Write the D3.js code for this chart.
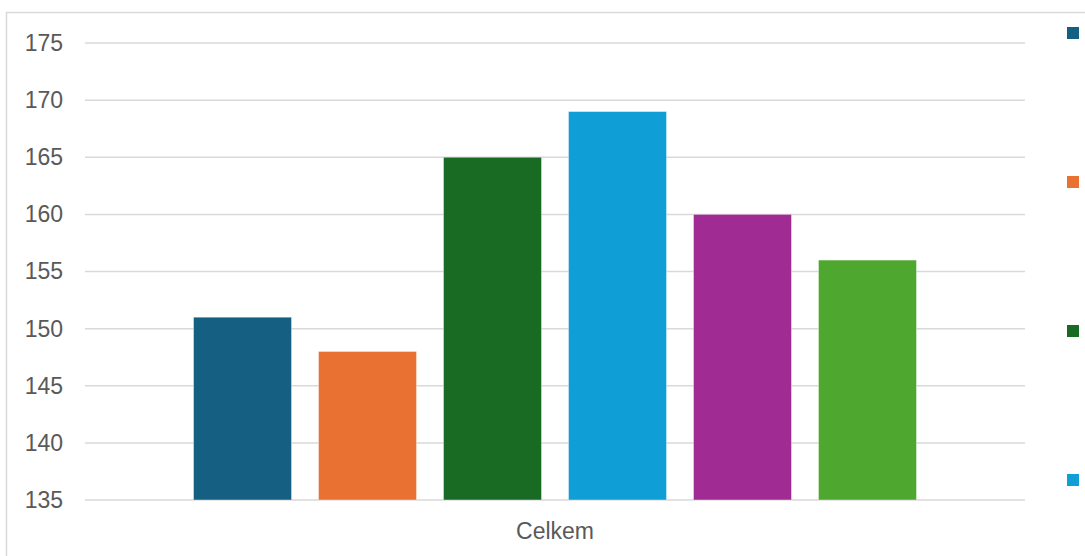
<!DOCTYPE html>
<html>
<head>
<meta charset="utf-8">
<script src="https://cdn.jsdelivr.net/npm/d3@7"></script>
<style>
  body { margin: 0; background: #fff; overflow: hidden; }
  text { font-family: "Liberation Sans", Arial, sans-serif; }
</style>
</head>
<body>
<div class="chart"></div>
<script>
// data
var categories = ["Celkem"];
var seriesNames = ["Řada 1", "Řada 2", "Řada 3", "Řada 4", "Řada 5", "Řada 6"];
var seriesValues = [151, 148, 165, 169, 160, 156];
var seriesColors = ["#156082", "#E97132", "#196B24", "#0F9ED5", "#A02B93", "#4EA72E"];
var yTicks = [135, 140, 145, 150, 155, 160, 165, 170, 175];

var svgWidth = 1085;
var svgHeight = 556;

var margin = { top: 43, right: 60, bottom: 56, left: 85 };
var width = 1025 - margin.left;
var height = 500 - margin.top;

var svg = d3.select(".chart")
  .append("svg")
  .attr("width", svgWidth)
  .attr("height", svgHeight);

// chart area border (runs off the right and bottom edges)
svg.append("rect")
  .attr("x", 6.5)
  .attr("y", 12.5)
  .attr("width", 1200)
  .attr("height", 700)
  .attr("fill", "none")
  .attr("stroke", "#d9d9d9")
  .attr("stroke-width", 1.5);

var chartGroup = svg.append("g")
  .attr("transform", `translate(${margin.left}, ${margin.top})`);

// scales
var x0 = d3.scaleBand()
  .domain(categories)
  .range([0, width])
  .paddingInner(0)
  .paddingOuter(0.1267);

var x1 = d3.scaleBand()
  .domain(seriesNames)
  .range([0, x0.bandwidth()])
  .paddingInner(0.216)
  .paddingOuter(0.108);

var yScale = d3.scaleLinear()
  .domain([135, 175])
  .range([height, 0]);

// gridlines
chartGroup.append("g")
  .selectAll("line")
  .data(yTicks)
  .enter()
  .append("line")
  .attr("x1", 0)
  .attr("x2", width)
  .attr("y1", d => yScale(d))
  .attr("y2", d => yScale(d))
  .attr("stroke", "#d9d9d9")
  .attr("stroke-width", 1.5);

// left axis, labels only
var leftAxis = d3.axisLeft(yScale).tickValues(yTicks).tickSize(0).tickPadding(22);
var yAxisG = chartGroup.append("g").call(leftAxis);
yAxisG.select(".domain").remove();
yAxisG.selectAll("text")
  .attr("font-size", "23px")
  .attr("fill", "#595959")
  .style("font-family", "'Liberation Sans', Arial, sans-serif");

// bars
chartGroup.append("g")
  .selectAll("rect")
  .data(seriesNames)
  .enter()
  .append("rect")
  .attr("x", d => x0("Celkem") + x1(d))
  .attr("width", x1.bandwidth())
  .attr("y", (d, i) => yScale(seriesValues[i]))
  .attr("height", (d, i) => height - yScale(seriesValues[i]))
  .attr("fill", (d, i) => seriesColors[i])
  .attr("stroke", "#ffffff")
  .attr("stroke-opacity", 0.4)
  .attr("stroke-width", 1);

// bottom axis, category label only
var bottomAxis = d3.axisBottom(x0).tickSize(0).tickPadding(23);
var xAxisG = chartGroup.append("g")
  .attr("transform", `translate(0, ${height})`)
  .call(bottomAxis);
xAxisG.select(".domain").remove();
xAxisG.selectAll("text")
  .attr("font-size", "23px")
  .attr("fill", "#595959")
  .style("font-family", "'Liberation Sans', Arial, sans-serif");

// legend (cut off by the right edge, as in the source)
var legend = svg.append("g")
  .selectAll("g")
  .data(seriesNames)
  .enter()
  .append("g")
  .attr("transform", (d, i) => `translate(1067, ${27 + i * 149})`);

legend.append("rect")
  .attr("width", 12)
  .attr("height", 12)
  .attr("fill", (d, i) => seriesColors[i]);

legend.append("text")
  .attr("x", 20)
  .attr("y", 11)
  .attr("font-size", "20px")
  .attr("fill", "#595959")
  .text(d => d);
</script>
</body>
</html>
